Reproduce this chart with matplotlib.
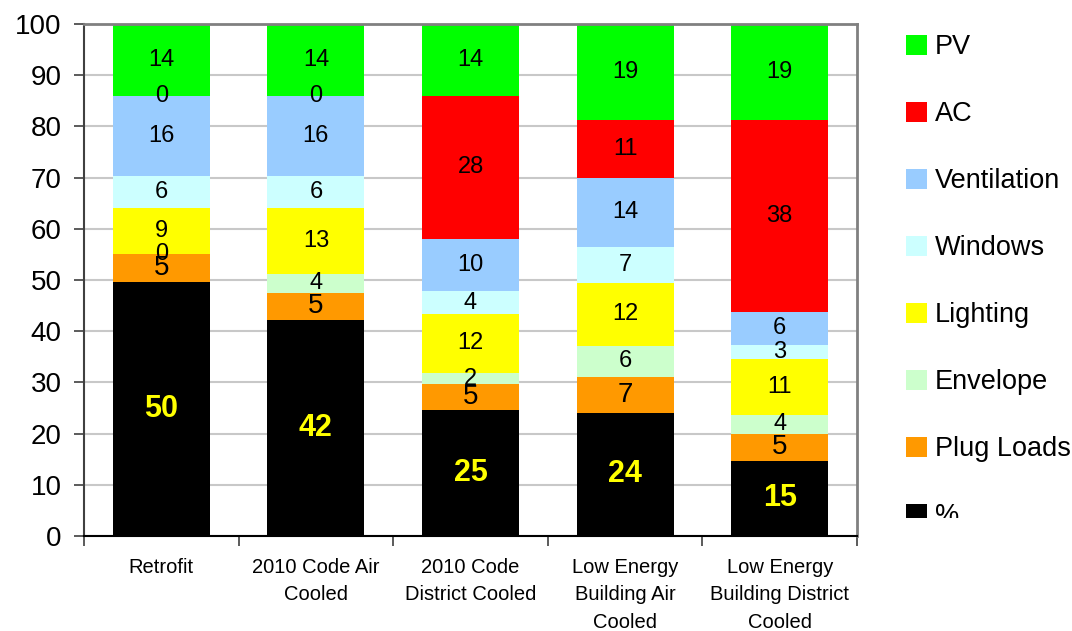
import numpy as np
import matplotlib
matplotlib.use("Agg")
import matplotlib.pyplot as plt
from matplotlib.transforms import Bbox, TransformedBbox

plt.rcParams['font.family'] = ['Liberation Sans', 'DejaVu Sans']

# cenarios
categorias = ["Retrofit", "2010 Code Air\nCooled", "2010 Code\nDistrict Cooled",
              "Low Energy\nBuilding Air\nCooled", "Low Energy\nBuilding District\nCooled"]

# parcelas de cada barra (de baixo para cima)
pct        = [49.7, 42.2, 24.7, 24.1, 14.7]
plug_loads = [5.4, 5.3, 4.9, 7.0, 5.3]
envelope   = [0.0, 3.7, 2.2, 6.1, 3.6]
lighting   = [9.0, 12.9, 11.6, 12.3, 10.9]
windows    = [6.2, 6.3, 4.4, 6.9, 2.9]
ventilation = [15.7, 15.6, 10.2, 13.6, 6.3]
ac         = [0.0, 0.0, 28.0, 11.2, 37.6]
pv         = [14.0, 14.0, 14.0, 18.8, 18.7]

series = [("%", pct, "#000000"),
          ("Plug Loads", plug_loads, "#FF9900"),
          ("Envelope", envelope, "#CCFFCC"),
          ("Lighting", lighting, "#FFFF00"),
          ("Windows", windows, "#CCFFFF"),
          ("Ventilation", ventilation, "#99CCFF"),
          ("AC", ac, "#FF0000"),
          ("PV", pv, "#00FF00")]

fig = plt.figure(figsize=(10.72, 6.31), dpi=100)
ax = fig.add_axes([84/1072, 95/631, 773/1072, 512/631])

x = np.arange(len(categorias))
base = np.zeros(len(categorias))
for nome, vals, cor in series:
    b = ax.bar(x, vals, 0.627, bottom=base, color=cor, label=nome, zorder=2)
    base = base + np.array(vals)
    if nome == "%":
        ax.bar_label(b, fmt="%.0f", label_type="center", color="#FFFF00",
                     fontsize=22, fontweight="bold")
    elif nome == "Plug Loads":
        ax.bar_label(b, fmt="%.0f", label_type="center", fontsize=20)
    else:
        ax.bar_label(b, fmt="%.0f", label_type="center", fontsize=17)

ax.set_xlim(-0.5, len(categorias) - 0.5)
ax.set_ylim(0, 100)
ax.set_yticks(np.arange(0, 101, 10))
ax.yaxis.grid(True, color="#C8C8C8", lw=1.5, zorder=0)
ax.set_axisbelow(True)

ax.set_xticks(x)
ax.set_xticklabels(categorias, fontsize=14.5, linespacing=1.55)
ax.set_xticks(np.arange(-0.5, len(categorias)), minor=True)
ax.tick_params(axis="x", which="major", length=0, pad=16)
ax.tick_params(axis="x", which="minor", length=7, width=1.2, color="#404040")
ax.tick_params(axis="y", length=7, width=1.2, color="#404040", labelsize=20, pad=9)

ax.spines["left"].set_color("#404040")
ax.spines["left"].set_linewidth(1.5)
ax.spines["bottom"].set_color("#000000")
ax.spines["bottom"].set_linewidth(1.5)
for s in ["top", "right"]:
    ax.spines[s].set_color("#808080")
    ax.spines[s].set_linewidth(2)

# legenda sem moldura, ordem invertida
h, l = ax.get_legend_handles_labels()
leg = fig.legend(h[::-1], l[::-1], loc="upper left", bbox_to_anchor=(906/1072, 1 - 34/631),
                 frameon=False, fontsize=19.5, handlelength=0.76, handleheight=0.76,
                 handletextpad=0.3, labelspacing=1.515, borderpad=0, borderaxespad=0)

# area da legenda corta o ultimo item
corte = TransformedBbox(Bbox([[0, 113/631], [1, 1]]), fig.transFigure)
for t in leg.get_texts():
    t.set_clip_box(corte)
    t.set_clip_on(True)
for p in leg.legend_handles:
    p.set_clip_box(corte)
    p.set_clip_on(True)

fig.savefig("out.png", dpi=100, facecolor="white")
